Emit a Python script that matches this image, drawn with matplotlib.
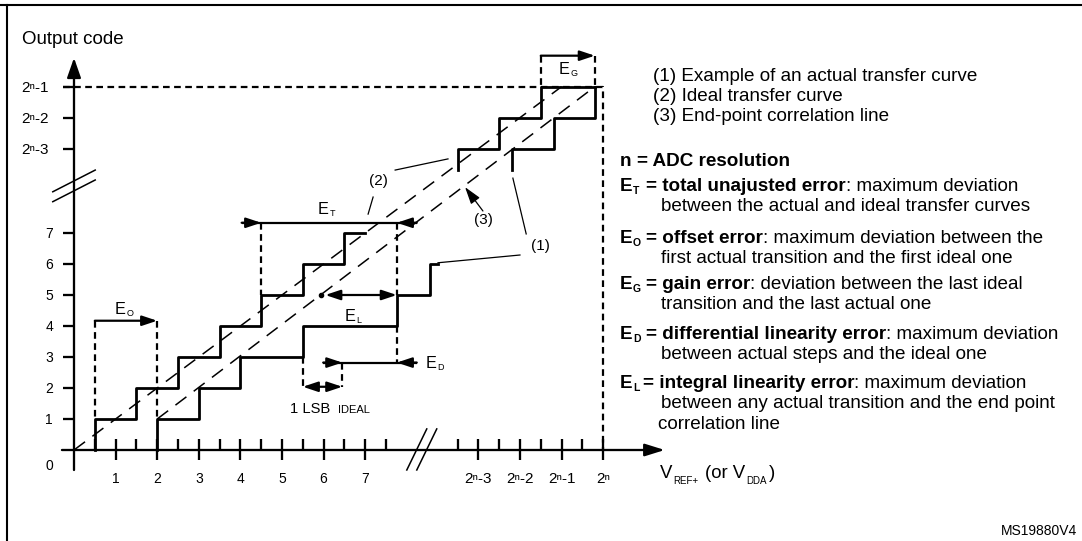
import matplotlib
matplotlib.use("Agg")
import matplotlib.pyplot as plt

plt.rcParams['font.family'] = ['Liberation Sans', 'DejaVu Sans']

W, H = 1082, 541

# axis scale: both axes are broken, 2^n sits at TOP after the break
TOP = 12.72
codes_low = [1, 2, 3, 4, 5, 6, 7]
inputs_low = [1, 2, 3, 4, 5, 6, 7]
codes_top = ['2ⁿ-3', '2ⁿ-2', '2ⁿ-1']
codes_top_k = [3, 2, 1]
inputs_top = ['2ⁿ-3', '2ⁿ-2', '2ⁿ-1', '2ⁿ']
inputs_top_k = [3, 2, 1, 0]

# stair curves: input where each next code starts
stair_a_low = [0.5, 1.5, 2.5, 3.5, 4.5, 5.5, 6.5]
stair_a_low_end = 7.0
stair_b_low = [2.0, 3.0, 4.0, 5.5, 7.76, 8.56]
stair_b_low_end = 8.74
# after the break, as 2^n - k, into codes 2^n-3, 2^n-2, 2^n-1
stair_a_top_k = [3.5, 2.5, 1.5]
stair_b_top_k = [2.18, 1.18, 0.2]
stair_top_end_k = 0.2
stair_top_start = 9.03

# straight dashed lines (x0, x1), (y0, y1)
line_a = ([0.0, TOP - 1], [0.0, TOP - 1])
line_b = ([2.0, TOP - 0.2], [1.0, TOP - 1])

# error markers: level, x from, x to
e_o = (4.17, 0.5, 2.0)
e_t = (7.33, 4.03, 4.5, 7.76, 8.24)
e_l = (5.0, 5.93, 6.04, 7.76)
e_d = (2.82, 5.99, 6.45, 7.76, 8.24)
lsb = (2.04, 5.5, 6.45)
e_g = (12.72, TOP - 1.5, TOP - 0.2)

fig = plt.figure(figsize=(W / 100, H / 100), dpi=100)
ax = fig.add_axes([0, 0, 1, 1])
ax.set_xlim(-74 / 41.6, (W - 74) / 41.6)
ax.set_ylim(-(H - 450) / 31, 450 / 31)
ax.axis('off')
ov = fig.add_axes([0, 0, 1, 1])
ov.set_xlim(0, W)
ov.set_ylim(H, 0)
ov.axis('off')

K = dict(color='black', solid_capstyle='butt')
DASH = dict(color='black', lw=1.6, linestyle=(0, (3, 2)))
DIAG = dict(color='black', lw=1.1, linestyle=(0, (9, 6)))


def arrow(x0, y0, x1, y1, style='-|>', lw=1.6, hl=0.6, hw=0.2):
    ax.annotate('', xy=(x1, y1), xytext=(x0, y0),
                arrowprops=dict(arrowstyle=f'{style},head_length={hl},head_width={hw}',
                                lw=lw, color='black', shrinkA=0, shrinkB=0,
                                mutation_scale=15))


def stair(trans, levels, end, start):
    xs, ys = [trans[0]], [start]
    prev = start
    for t, lv in zip(trans, levels):
        xs += [t, t]
        ys += [prev, lv]
        prev = lv
    xs.append(end)
    ys.append(prev)
    return xs, ys


# axes
arrow(0, -0.645, 0, 12.65, lw=1.65, hl=0.8, hw=0.28)
arrow(-0.29, 0, 14.2, 0, lw=1.65, hl=0.8, hw=0.25)
x_long = inputs_low + [TOP - k for k in inputs_top_k]
x_half = [i + 0.5 for i in range(8)] + [TOP - k - 0.5 for k in inputs_top_k]
for u in x_long:
    ax.plot([u, u], [-0.32, 0.35], lw=1.65, **K)
for u in x_half:
    ax.plot([u, u], [0, 0.35], lw=1.65, **K)
y_ticks = codes_low + [TOP - k for k in codes_top_k]
for v in y_ticks:
    ax.plot([-0.264, 0], [v, v], lw=1.65, **K)

# axis breaks
for d in (0, 0.32):
    ax.plot([-0.51, 0.51], [8.33 - d, 9.03 - d], lw=1.1, color='black')
for d in (0, 0.24):
    ax.plot([8.0 + d, 8.48 + d], [-0.645, 0.68], lw=1.1, color='black')

# tick labels
for u in inputs_low:
    ax.annotate(str(u), (u, 0), xytext=(0, -33), textcoords='offset pixels',
                ha='center', va='baseline', fontsize=10)
for lbl, k in zip(inputs_top, inputs_top_k):
    ax.annotate(lbl, (TOP - k, 0), xytext=(0, -33), textcoords='offset pixels',
                ha='center', va='baseline', fontsize=11)
for c in codes_low:
    ax.annotate(str(c), (0, c), xytext=(-21, -5), textcoords='offset pixels',
                ha='right', va='baseline', fontsize=10)
for lbl, k in zip(codes_top, codes_top_k):
    ax.annotate(lbl, (0, TOP - k), xytext=(-25, -5), textcoords='offset pixels',
                ha='right', va='baseline', fontsize=11)
ax.annotate('0', (0, 0), xytext=(-21, -20), textcoords='offset pixels',
            ha='right', va='baseline', fontsize=10)

# 2^n-1 / 2^n dashed frame
ax.plot([-0.264, TOP, TOP], [TOP - 1, TOP - 1, 0], **DASH)

# ideal and end-point lines
ax.plot(*line_a, **DIAG)
ax.plot(*line_b, **DIAG)

# stairs
low_levels = codes_low
ax.plot(*stair(stair_a_low, low_levels, stair_a_low_end, 0), lw=2.0, color='black', zorder=3)
ax.plot(*stair(stair_b_low, low_levels, stair_b_low_end, 0), lw=2.0, color='black', zorder=3)
top_levels = [TOP - k for k in codes_top_k]
ax.plot(*stair([TOP - k for k in stair_a_top_k], top_levels, TOP - stair_top_end_k,
               stair_top_start), lw=2.0, color='black', zorder=3)
ax.plot(*stair([TOP - k for k in stair_b_top_k], top_levels, TOP - stair_top_end_k,
               stair_top_start), lw=2.0, color='black', zorder=3)

# error markers
lv, a, b = e_o
arrow(a, lv, b, lv)
ax.plot([a, a], [lv, 1], **DASH)
ax.plot([b, b], [lv, 1], **DASH)

lv, t0, h0, h1, t1 = e_t
ax.plot([t0, t1], [lv, lv], lw=1.6, **K)
arrow(t0, lv, h0, lv)
arrow(t1, lv, h1, lv)
ax.plot([h0, h0], [lv, 5], **DASH)
ax.plot([h1, h1], [lv, 5], **DASH)
ax.plot([h1, h1], [4, e_d[0]], **DASH)

lv, dot, a, b = e_l
arrow(a, lv, b, lv, style='<|-|>')
ax.plot([dot], [lv], 'o', color='black', ms=3)

lv, t0, h0, h1, t1 = e_d
ax.plot([t0, t1], [lv, lv], lw=1.6, **K)
arrow(t0, lv, h0, lv)
arrow(t1, lv, h1, lv)

lv, a, b = lsb
arrow(a, lv, b, lv, style='<|-|>')
ax.plot([a, a], [3, lv], **DASH)
ax.plot([b, b], [e_d[0], lv], **DASH)

lv, a, b = e_g
arrow(a, lv, b, lv)
ax.plot([a, a], [lv, TOP - 1], **DASH)
ax.plot([b, b], [lv, TOP - 1], **DASH)

# leader lines
LEAD = dict(color='black', lw=0.9)
ax.plot([7.72, 8.99], [9.03, 9.39], **LEAD)
ax.plot([7.19, 7.07], [8.16, 7.61], **LEAD)
ax.plot([10.55, 10.87], [8.77, 6.97], **LEAD)
ax.plot([10.72, 8.75], [6.29, 6.04], **LEAD)
ax.annotate('', xy=(9.40, 8.48), xytext=(9.83, 7.71),
            arrowprops=dict(arrowstyle='-|>,head_length=0.7,head_width=0.22', lw=0.9,
                            color='black', shrinkA=0, shrinkB=0, mutation_scale=15))
ov.text(378, 181, '(2)', fontsize=11, ha='center', va='center')
ov.text(540, 246, '(1)', fontsize=11, ha='center', va='center')
ov.text(483, 220, '(3)', fontsize=11, ha='center', va='center')


def esub(x, y, sub, size=11.7, subsize=6.5, weight='normal', drop=1):
    t = ov.text(x, y, 'E', fontsize=size, fontweight=weight, ha='left', va='baseline')
    ov.annotate(sub, xy=(1, 0), xycoords=t, xytext=(0.5, -drop), textcoords='offset pixels',
                fontsize=subsize, fontweight=weight, ha='left', va='bottom')


esub(318, 214, 'T')
esub(115, 314, 'O')
esub(345, 321, 'L')
esub(426, 367.5, 'D')
esub(559, 74, 'G')
ov.text(290, 413, '1 LSB', fontsize=10.6, ha='left', va='baseline')
ov.text(338, 413, 'IDEAL', fontsize=8, ha='left', va='baseline')

# labels
ov.text(21.7, 44, 'Output code', fontsize=13.5, ha='left', va='baseline')
ov.text(660, 478, 'V', fontsize=13.4, ha='left', va='baseline')
ov.text(673, 483.5, 'REF+', fontsize=7, ha='left', va='baseline')
ov.text(705, 478, '(or V', fontsize=13.4, ha='left', va='baseline')
ov.text(746, 483.5, 'DDA', fontsize=7, ha='left', va='baseline')
ov.text(769, 478, ')', fontsize=13.4, ha='left', va='baseline')
ov.text(1077, 535, 'MS19880V4', fontsize=10, ha='right', va='baseline')

legend_lines = ['(1) Example of an actual transfer curve', '(2) Ideal transfer curve',
                '(3) End-point correlation line']
for i, s in enumerate(legend_lines):
    ov.text(653, 81 + 20 * i, s, fontsize=13.6, ha='left', va='baseline')

FS = 13.6
ov.text(620, 166, 'n', fontsize=FS, fontweight='bold', ha='left', va='baseline')
ov.text(637, 166, '= ADC resolution', fontsize=FS, fontweight='bold', ha='left', va='baseline')

definitions = [
    ('T', '= total unajusted error', ': maximum deviation',
     ['between the actual and ideal transfer curves']),
    ('O', '= offset error', ': maximum deviation between the',
     ['first actual transition and the first ideal one']),
    ('G', '= gain error', ': deviation between the last ideal',
     ['transition and the last actual one']),
    ('D', '= differential linearity error', ': maximum deviation',
     ['between actual steps and the ideal one']),
    ('L', '= integral linearity error', ': maximum deviation',
     ['between any actual transition and the end point', 'correlation line']),
]
row_y = [191, 242.7, 289.3, 339.3, 387.7]
for (sub, bold, rest, cont), yb in zip(definitions, row_y):
    esub(620, yb, sub, size=FS, subsize=7.5, weight='bold')
    t = ov.text(646 if sub != 'L' else 643, yb, bold, fontsize=FS, fontweight='bold',
                ha='left', va='baseline')
    ov.annotate(rest, xy=(1, 0), xycoords=t, fontsize=FS, ha='left', va='bottom')
    for j, c in enumerate(cont):
        ov.text(661 - 3 * j, yb + 20 + 21.7 * j, c, fontsize=FS, ha='left', va='baseline')

# frame
ov.plot([0, W], [5, 5], lw=1.5, color='black', clip_on=False)
ov.plot([7.3, 7.3], [5, H], lw=1.5, color='black', clip_on=False)

fig.savefig('out.png', dpi=100)
